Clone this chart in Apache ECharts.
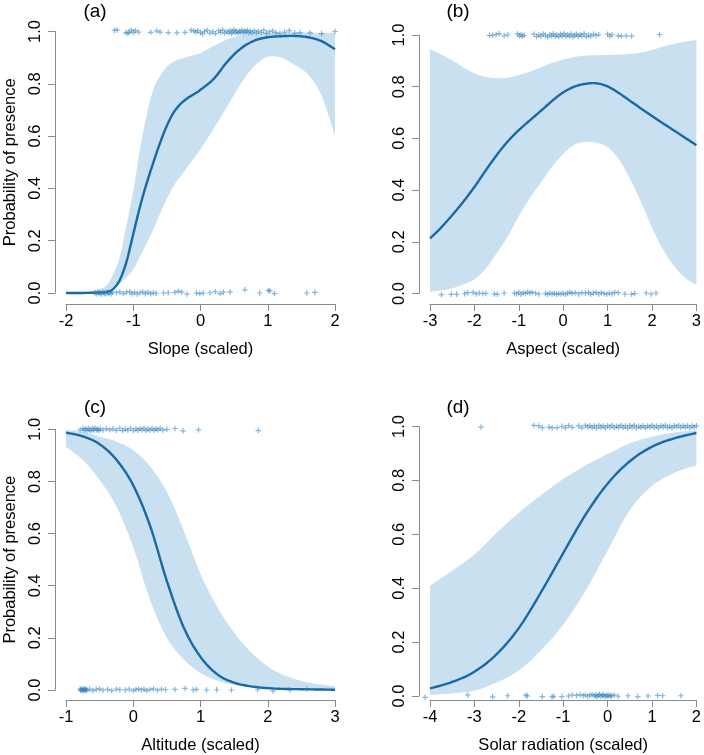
<!DOCTYPE html>
<html><head><meta charset="utf-8">
<script src="https://cdn.jsdelivr.net/npm/echarts/dist/echarts.min.js"></script>
<style>html,body{margin:0;padding:0;background:#fff}#c{width:704px;height:755px}</style>
</head><body><div id="c"></div>
<script>
// ---------- Panel (a): Slope ----------
const aX     = [-2,-1.8,-1.6,-1.5,-1.4,-1.3,-1.2,-1.1,-1.0,-0.9,-0.8,-0.7,-0.6,-0.5,-0.4,-0.3,-0.2,-0.1,0,0.2,0.4,0.6,0.8,1.0,1.2,1.4,1.6,1.8,2.0];
const aMean  = [0.0,0.0,0.001,0.002,0.004,0.015,0.05,0.12,0.225,0.33,0.42,0.5,0.575,0.64,0.69,0.722,0.744,0.76,0.777,0.82,0.885,0.935,0.965,0.978,0.982,0.983,0.978,0.963,0.932];
const aUpper = [0.0,0.002,0.008,0.015,0.028,0.07,0.14,0.26,0.39,0.55,0.68,0.78,0.83,0.865,0.885,0.895,0.903,0.91,0.918,0.945,0.97,0.985,0.993,0.995,0.996,0.996,0.996,0.995,0.995];
const aLower = [0.0,0.0,0.0,0.0,0.001,0.015,0.035,0.06,0.09,0.14,0.19,0.245,0.305,0.36,0.41,0.445,0.48,0.515,0.55,0.63,0.715,0.8,0.868,0.903,0.9,0.872,0.835,0.755,0.6];
const aRugTop = [[-1.28,1.004],[-1.24,1.006],[-1.11,0.996],[-1.08,0.993],[-1.06,0.998],[-1.03,1.005],[-1.0,0.997],[-0.97,1.003],[-0.92,0.998],[-0.74,0.997],[-0.65,1.002],[-0.6,0.998],[-0.48,0.996],[-0.35,0.995],[-0.23,0.997],[-0.14,1.005],[-0.1,1.002],[-0.07,0.998],[-0.04,1.003],[0.0,0.996],[0.03,0.991],[0.06,1.001],[0.1,1.004],[0.14,0.994],[0.18,0.999],[0.22,0.992],[0.27,1.003],[0.3,0.997],[0.33,1.006],[0.36,0.994],[0.39,1.0],[0.42,0.995],[0.44,1.004],[0.46,0.993],[0.48,0.999],[0.5,1.006],[0.52,0.996],[0.54,1.002],[0.56,0.994],[0.58,1.001],[0.6,0.997],[0.62,1.005],[0.64,0.995],[0.66,1.002],[0.68,0.998],[0.7,1.004],[0.72,0.994],[0.74,1.0],[0.77,0.996],[0.8,1.003],[0.83,0.995],[0.86,1.001],[0.9,0.997],[0.94,1.004],[0.98,0.993],[1.02,0.999],[1.07,1.002],[1.12,0.996],[1.18,0.992],[1.25,0.998],[1.32,1.003],[1.4,0.994],[1.48,0.996],[1.63,0.995],[1.8,0.992],[2.0,1.0]];
const aRugBot = [[-1.57,0.002],[-1.55,-0.003],[-1.53,0.004],[-1.51,-0.002],[-1.49,0.001],[-1.47,-0.004],[-1.45,0.003],[-1.43,0.0],[-1.41,-0.003],[-1.39,0.004],[-1.37,-0.001],[-1.35,0.002],[-1.33,-0.004],[-1.31,0.003],[-1.25,0.001],[-1.2,0.004],[-1.15,-0.002],[-1.1,0.003],[-1.05,0.005],[-1.02,-0.003],[-0.98,0.002],[-0.94,-0.004],[-0.9,0.001],[-0.86,0.004],[-0.82,-0.002],[-0.78,0.003],[-0.74,-0.003],[-0.7,0.001],[-0.66,-0.001],[-0.55,0.0],[-0.48,0.001],[-0.38,0.002],[-0.33,0.007],[-0.28,0.003],[-0.2,-0.004],[-0.06,0.0],[-0.01,-0.002],[0.04,0.0],[0.14,0.001],[0.22,0.005],[0.29,-0.002],[0.34,0.003],[0.44,0.004],[0.66,0.012],[0.88,0.0],[1.01,0.01],[1.03,0.008],[1.1,-0.002],[1.58,0.0],[1.7,0.002]];

// ---------- Panel (b): Aspect ----------
const bX     = [-3,-2.75,-2.5,-2.25,-2,-1.75,-1.5,-1.25,-1,-0.75,-0.5,-0.25,0,0.25,0.5,0.75,1,1.25,1.5,1.75,2,2.25,2.5,2.75,3];
const bMean  = [0.213,0.255,0.303,0.355,0.412,0.475,0.535,0.588,0.632,0.67,0.707,0.745,0.778,0.8,0.811,0.813,0.801,0.776,0.746,0.716,0.687,0.658,0.63,0.602,0.574];
const bUpper = [0.945,0.925,0.902,0.875,0.852,0.838,0.833,0.835,0.845,0.858,0.875,0.892,0.905,0.915,0.92,0.922,0.923,0.924,0.927,0.932,0.942,0.955,0.965,0.974,0.981];
const bLower = [0.007,0.012,0.02,0.035,0.055,0.095,0.155,0.22,0.3,0.37,0.43,0.49,0.54,0.575,0.587,0.583,0.566,0.52,0.445,0.355,0.255,0.17,0.105,0.06,0.033];
const bRugTop = [[-1.66,0.998],[-1.59,0.999],[-1.51,1.002],[-1.44,1.005],[-1.33,0.997],[-1.25,1.001],[-1.03,1.004],[-0.99,0.996],[-0.95,1.002],[-0.92,0.995],[-0.88,0.999],[-0.66,1.003],[-0.6,0.994],[-0.55,1.001],[-0.5,0.996],[-0.45,1.004],[-0.4,0.998],[-0.35,0.993],[-0.3,1.002],[-0.26,0.997],[-0.22,1.005],[-0.18,0.995],[-0.14,1.0],[-0.1,0.994],[-0.06,1.003],[-0.02,0.997],[0.02,1.006],[0.06,0.995],[0.1,1.001],[0.14,0.996],[0.18,1.004],[0.22,0.993],[0.26,0.999],[0.3,1.003],[0.34,0.995],[0.38,1.002],[0.42,0.997],[0.47,1.005],[0.52,0.994],[0.57,1.0],[0.62,0.996],[0.68,1.003],[0.74,0.998],[0.8,1.001],[1.0,1.003],[1.05,0.996],[1.1,1.001],[1.24,0.997],[1.31,0.996],[1.42,0.997],[1.54,0.996],[2.17,1.002]];
const bRugBot = [[-2.74,-0.004],[-2.52,-0.003],[-2.4,-0.003],[-2.22,-0.001],[-2.15,0.003],[-2.03,0.004],[-1.96,-0.002],[-1.89,0.002],[-1.81,-0.001],[-1.74,0.001],[-1.55,-0.002],[-1.48,-0.003],[-1.33,0.002],[-1.1,0.002],[-1.05,-0.002],[-1.0,0.004],[-0.95,-0.003],[-0.9,0.003],[-0.85,0.0],[-0.8,0.005],[-0.75,0.002],[-0.7,0.004],[-0.62,0.001],[-0.55,-0.002],[-0.4,0.0],[-0.35,-0.003],[-0.3,0.002],[-0.25,-0.002],[-0.2,0.001],[-0.15,-0.003],[-0.1,0.0],[-0.05,-0.002],[0.0,0.001],[0.05,-0.003],[0.1,0.002],[0.15,0.004],[0.2,0.0],[0.27,0.003],[0.35,-0.002],[0.42,0.003],[0.5,0.001],[0.57,0.004],[0.62,-0.003],[0.68,0.002],[0.74,0.004],[0.8,-0.002],[0.86,0.003],[0.92,0.0],[0.98,-0.003],[1.04,0.002],[1.1,-0.002],[1.16,0.004],[1.24,0.003],[1.39,-0.002],[1.54,-0.003],[1.61,0.0],[1.87,0.002],[1.98,-0.002],[2.09,0.002]];

// ---------- Panel (c): Altitude ----------
const cX     = [-1,-0.75,-0.5,-0.25,0,0.25,0.5,0.75,1,1.25,1.5,1.75,2,2.25,2.5,2.75,3];
const cMean  = [0.987,0.973,0.943,0.883,0.785,0.63,0.418,0.24,0.127,0.06,0.028,0.014,0.007,0.004,0.003,0.002,0.001];
const cUpper = [0.998,0.99,0.972,0.953,0.92,0.858,0.76,0.612,0.445,0.318,0.22,0.145,0.09,0.056,0.035,0.022,0.014];
const cLower = [0.933,0.882,0.806,0.704,0.548,0.345,0.2,0.118,0.065,0.036,0.02,0.01,0.005,0.003,0.002,0.001,0.001];
const cRugTop = [[-0.79,0.998],[-0.75,1.003],[-0.73,0.996],[-0.71,1.002],[-0.69,0.995],[-0.67,1.004],[-0.65,0.999],[-0.63,0.994],[-0.61,1.003],[-0.59,0.997],[-0.57,1.005],[-0.55,0.996],[-0.53,1.001],[-0.51,0.995],[-0.49,1.002],[-0.45,0.997],[-0.4,1.003],[-0.35,0.998],[-0.3,1.002],[-0.25,0.996],[-0.2,1.004],[-0.16,0.995],[-0.12,1.001],[-0.08,0.997],[-0.04,1.004],[0.0,0.995],[0.04,1.002],[0.07,0.996],[0.1,1.003],[0.13,0.998],[0.16,1.005],[0.19,0.995],[0.22,1.001],[0.25,0.997],[0.28,1.003],[0.31,0.996],[0.34,1.002],[0.37,0.998],[0.4,1.004],[0.44,0.997],[0.5,1.0],[0.62,1.003],[0.74,0.994],[0.97,0.998],[1.86,0.995]];
const cRugBot = [[-0.79,0.003],[-0.78,-0.002],[-0.77,0.004],[-0.76,0.0],[-0.75,-0.003],[-0.74,0.002],[-0.73,0.005],[-0.72,-0.001],[-0.71,0.003],[-0.7,-0.002],[-0.69,0.001],[-0.65,0.003],[-0.6,-0.002],[-0.55,0.002],[-0.5,0.004],[-0.45,-0.001],[-0.38,0.002],[-0.32,-0.002],[-0.25,0.003],[-0.2,0.001],[-0.12,0.0],[-0.06,0.003],[0.0,-0.002],[0.04,0.002],[0.08,0.004],[0.12,0.0],[0.16,0.003],[0.2,-0.002],[0.25,0.002],[0.3,0.004],[0.36,-0.001],[0.42,0.003],[0.48,0.001],[0.62,0.002],[0.77,0.006],[0.89,0.0],[0.94,0.002],[1.09,0.0],[1.24,0.001],[1.46,0.0],[1.85,0.001],[2.08,-0.004],[2.33,0.0],[2.58,0.004]];

// ---------- Panel (d): Solar radiation ----------
const dX     = [-4,-3.5,-3,-2.5,-2,-1.5,-1,-0.5,0,0.5,1,1.5,2];
const dMean  = [0.028,0.052,0.09,0.155,0.252,0.385,0.53,0.672,0.788,0.871,0.925,0.956,0.976];
const dUpper = [0.41,0.465,0.525,0.605,0.68,0.745,0.805,0.855,0.898,0.937,0.962,0.978,0.987];
const dLower = [0.004,0.01,0.02,0.05,0.095,0.17,0.265,0.39,0.54,0.69,0.78,0.828,0.856];
const dRugTop = [[-2.85,0.998],[-1.66,1.004],[-1.55,1.002],[-1.47,0.996],[-1.32,0.998],[-1.25,0.995],[-1.14,0.996],[-1.03,1.001],[-0.95,0.995],[-0.88,1.003],[-0.8,0.997],[-0.65,1.002],[-0.58,0.995],[-0.5,1.004],[-0.45,0.998],[-0.4,1.003],[-0.35,0.996],[-0.3,1.002],[-0.25,0.994],[-0.2,1.004],[-0.15,0.997],[-0.1,1.002],[-0.05,0.995],[0.0,1.003],[0.05,0.998],[0.1,1.004],[0.15,0.995],[0.2,1.001],[0.25,0.997],[0.3,1.004],[0.35,0.996],[0.4,1.002],[0.45,0.994],[0.5,1.003],[0.55,0.998],[0.6,1.004],[0.65,0.995],[0.7,1.001],[0.75,0.997],[0.8,1.003],[0.85,0.995],[0.9,1.002],[0.95,0.998],[1.0,1.004],[1.05,0.996],[1.1,1.002],[1.15,0.995],[1.2,1.003],[1.25,0.998],[1.3,1.004],[1.35,0.996],[1.4,1.001],[1.45,0.995],[1.5,1.003],[1.55,0.998],[1.6,1.004],[1.65,0.996],[1.7,1.002],[1.75,0.997],[1.8,1.003],[1.85,0.996],[1.9,1.002],[1.95,0.998],[2.0,1.003]];
const dRugBot = [[-4.11,-0.005],[-3.15,0.004],[-2.59,-0.003],[-2.25,0.001],[-1.84,0.003],[-1.81,0.0],[-1.47,-0.002],[-1.25,-0.003],[-1.21,-0.001],[-1.03,-0.002],[-0.88,0.0],[-0.8,0.004],[-0.7,0.002],[-0.62,0.005],[-0.55,0.001],[-0.5,0.004],[-0.45,-0.001],[-0.4,0.003],[-0.35,0.005],[-0.3,0.0],[-0.27,0.004],[-0.24,-0.002],[-0.21,0.003],[-0.18,0.006],[-0.15,-0.001],[-0.12,0.002],[-0.09,0.005],[-0.06,-0.002],[-0.03,0.003],[0.0,0.0],[0.03,0.004],[0.06,-0.002],[0.09,0.002],[0.15,0.003],[0.24,-0.001],[0.46,0.001],[0.68,-0.002],[0.91,0.0],[1.13,0.002],[1.24,0.001],[1.65,0.001]];

// ---------- tick labels / titles ----------
const panelTags = ['(a)','(b)','(c)','(d)'];
const xNames = ['Slope (scaled)','Aspect (scaled)','Altitude (scaled)','Solar radiation (scaled)'];
const yNames = ['Probability of presence','','Probability of presence',''];
const xRanges = [[-2,2],[-3,3],[-1,3],[-4,2]];

// ---------- layout / styles ----------
const FONT = '"Liberation Sans", Arial, Helvetica, sans-serif';
const LINE = '#176aa6', BAND = '#c8e0f0', PT = 'rgba(45,128,190,0.72)', AXIS = '#8a8a8a';
const PLUS = 'path://M3.9,0H6.1V3.9H10V6.1H6.1V10H3.9V6.1H0V3.9H3.9Z';
const layout = [
  {left:66,  top:31.5,  width:269, height:261.5, xOff:11,  yOff:11, tag:[95,12]},
  {left:430, top:35,    width:269, height:258.5, xOff:10.5,yOff:11, tag:[458,12]},
  {left:66,  top:429.3, width:269, height:261.2, xOff:10,  yOff:11, tag:[95,408]},
  {left:430, top:426.5, width:269, height:271,   xOff:4,   yOff:11, tag:[458,408]}
];
const panels = [
  {xs:aX, mean:aMean, up:aUpper, lo:aLower, rug:aRugTop.concat(aRugBot)},
  {xs:bX, mean:bMean, up:bUpper, lo:bLower, rug:bRugTop.concat(bRugBot)},
  {xs:cX, mean:cMean, up:cUpper, lo:cLower, rug:cRugTop.concat(cRugBot)},
  {xs:dX, mean:dMean, up:dUpper, lo:dLower, rug:dRugTop.concat(dRugBot)}
];

// render-time smoothing of already-projected pixel points (Catmull-Rom -> cubic Bezier)
function smoothPx(pts) {
  const out = [pts[0]];
  const n = pts.length;
  for (let i = 0; i < n - 1; i++) {
    const p0 = pts[Math.max(i - 1, 0)], p1 = pts[i], p2 = pts[i + 1], p3 = pts[Math.min(i + 2, n - 1)];
    const c1 = [p1[0] + (p2[0] - p0[0]) / 6, p1[1] + (p2[1] - p0[1]) / 6];
    const c2 = [p2[0] - (p3[0] - p1[0]) / 6, p2[1] - (p3[1] - p1[1]) / 6];
    for (let s = 1; s <= 10; s++) {
      const t = s / 10, u = 1 - t;
      out.push([
        u*u*u*p1[0] + 3*u*u*t*c1[0] + 3*u*t*t*c2[0] + t*t*t*p2[0],
        u*u*u*p1[1] + 3*u*u*t*c1[1] + 3*u*t*t*c2[1] + t*t*t*p2[1]
      ]);
    }
  }
  return out;
}

const grid = [], xAxis = [], yAxis = [], series = [], graphic = [];
panels.forEach((p, i) => {
  const L = layout[i];
  grid.push({left:L.left, top:L.top, width:L.width, height:L.height, containLabel:false});
  xAxis.push({
    type:'value', gridIndex:i, min:xRanges[i][0], max:xRanges[i][1], interval:1, offset:L.xOff,
    splitLine:{show:false},
    axisLine:{show:true, onZero:false, lineStyle:{color:AXIS, width:1}},
    axisTick:{show:true, length:7, lineStyle:{color:AXIS, width:1}},
    axisLabel:{color:'#000', fontSize:16.5, fontFamily:FONT, margin:9, showMinLabel:true, showMaxLabel:true},
    name:xNames[i], nameLocation:'middle', nameGap:37,
    nameTextStyle:{color:'#000', fontSize:16.5, fontFamily:FONT}
  });
  yAxis.push({
    type:'value', gridIndex:i, min:0, max:1, interval:0.2, offset:L.yOff,
    splitLine:{show:false},
    axisLine:{show:true, onZero:false, lineStyle:{color:AXIS, width:1}},
    axisTick:{show:true, length:7, lineStyle:{color:AXIS, width:1}},
    axisLabel:{color:'#000', fontSize:16.5, fontFamily:FONT, margin:11, rotate:90, formatter:v=>v.toFixed(1), showMinLabel:true, showMaxLabel:true},
    name:yNames[i], nameLocation:'middle', nameGap:36, nameRotate:90,
    nameTextStyle:{color:'#000', fontSize:16.5, fontFamily:FONT}
  });
  // confidence band: polygon between upper and lower, projected through the axes
  series.push({type:'custom', xAxisIndex:i, yAxisIndex:i, silent:true, z:1, data:[[p.xs[0], 0]],
    renderItem:(params, api) => {
      const up = smoothPx(p.xs.map((x,k)=>api.coord([x, p.up[k]])));
      const lo = smoothPx(p.xs.map((x,k)=>api.coord([x, p.lo[k]])).reverse());
      return {type:'polygon', shape:{points: up.concat(lo)}, style:{fill:BAND, stroke:null}};
    }});
  // fitted mean curve
  series.push({type:'custom', xAxisIndex:i, yAxisIndex:i, silent:true, z:3, data:[[p.xs[0], p.mean[0]]],
    renderItem:(params, api) => {
      const pts = smoothPx(p.xs.map((x,k)=>api.coord([x, p.mean[k]])));
      return {type:'polyline', shape:{points: pts}, style:{stroke:LINE, lineWidth:2.4, fill:null, lineJoin:'round', lineCap:'butt'}};
    }});
  series.push({type:'scatter', xAxisIndex:i, yAxisIndex:i, symbol:PLUS, symbolSize:5.5, clip:false, silent:true, z:4,
    itemStyle:{color:PT}, data:p.rug});
  graphic.push({type:'text', x:L.tag[0], y:L.tag[1], silent:true,
    style:{text:panelTags[i], fontSize:19, fontFamily:FONT, fill:'#000', align:'center', verticalAlign:'middle'}});
});

const chart = echarts.init(document.getElementById('c'), null, {renderer:'canvas'});
chart.setOption({animation:false, backgroundColor:'#fff', grid, xAxis, yAxis, series, graphic});
</script></body></html>
